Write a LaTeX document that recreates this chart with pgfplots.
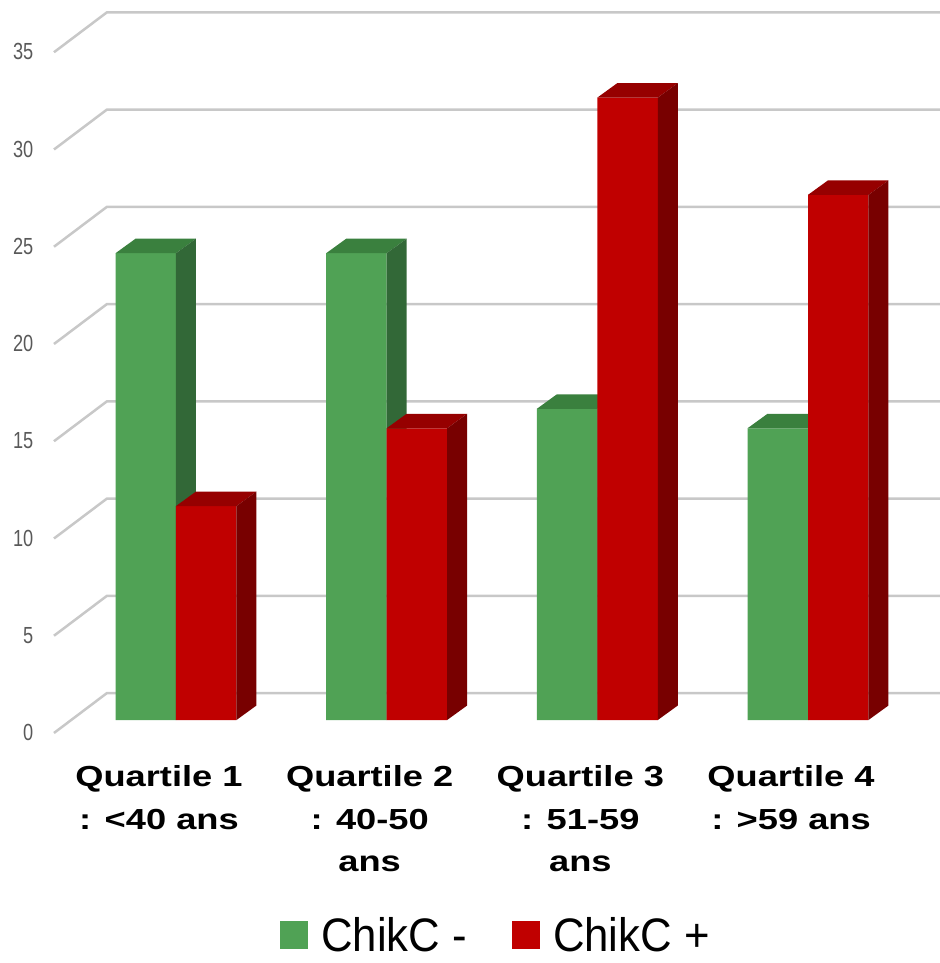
\documentclass[border=0pt]{standalone}
\usepackage{pgfplots}
\pgfplotsset{compat=1.18}
\usepackage{pgfplotstable}
\usepackage{fontspec}
\setmainfont{Liberation Sans}
\newfontfamily\labfont[FakeStretch=1.25]{Liberation Sans}
\newfontfamily\tickfont[FakeStretch=0.78]{Liberation Sans}
\newfontfamily\legfont[FakeStretch=0.93]{Liberation Sans}

\definecolor{gfront}{RGB}{80,162,85}
\definecolor{gtop}{RGB}{58,128,62}
\definecolor{gside}{RGB}{50,104,55}
\definecolor{rfront}{RGB}{192,0,0}
\definecolor{rtop}{RGB}{150,0,0}
\definecolor{rside}{RGB}{120,0,0}
\definecolor{gridc}{RGB}{200,200,200}
\definecolor{tickgray}{RGB}{89,89,89}

\pgfplotstableread{
x green red
0 24 11
1 24 15
2 16 32
3 15 27
}\datatable

% shape of one gridline: front floor edge -> back wall -> right edge
\pgfplotstableread{
x y
-0.5791 -0.668
-0.3275 1.388
3.6265 1.388
}\gridshape

\def\bw{0.287}
\def\dxx{0.0949}
\def\dyy{0.7455}

\pgfplotsset{sqlegend/.style={legend image code/.code={\fill[##1, draw=none] (0pt,-14pt) rectangle (28pt,14pt);}}}

\newcommand{\barfaces}[4]{%
  \pgfmathsetmacro\xa{#1}%
  \pgfmathsetmacro\xb{#1+\bw}%
  \pgfmathsetmacro\xc{#1+\dxx}%
  \pgfmathsetmacro\xd{#1+\bw+\dxx}%
  \pgfmathsetmacro\yv{#2}%
  \pgfmathsetmacro\yt{#2+\dyy}%
  \addplot[forget plot, fill=#3, draw=none] coordinates {(\xa,\yv) (\xc,\yt) (\xd,\yt) (\xb,\yv) (\xa,\yv)};
  \addplot[forget plot, fill=#4, draw=none] coordinates {(\xb,0) (\xd,\dyy) (\xd,\yt) (\xb,\yv) (\xb,0)};
}

\begin{document}
\begin{tikzpicture}
\begin{axis}[
  width=940pt, height=740pt, scale only axis,
  xmin=-0.8354, xmax=3.6265, ymin=-1.028, ymax=37.018,
  axis line style={draw=none}, major tick length=0pt, tick style={draw=none},
  clip=false,
  /pgf/number format/assume math mode=true,
  xtick={0,1,2,3},
  xticklabels={{Quartile 1\\: <40 ans},{Quartile 2\\: 40-50\\ans},{Quartile 3\\: 51-59\\ans},{Quartile 4\\: >59 ans}},
  xticklabel style={align=center, anchor=north, inner sep=0pt, xshift=-17pt, yshift=-25.5pt, font=\labfont\bfseries\fontsize{29}{42.5}\selectfont},
  ytick={0,5,...,35},
  yticklabel style={anchor=east, inner sep=0pt, xshift=33.5pt, yshift=-12.5pt, font=\tickfont\fontsize{23.3}{28}\selectfont, text=tickgray},
  legend style={at={(0.5266,-0.2635)}, anchor=center, draw=none, fill=none, legend columns=2,
    font=\legfont\fontsize{47}{56}\selectfont, inner sep=0pt, nodes={inner sep=0pt},
    /tikz/every odd column/.append style={column sep=13pt},
    /tikz/every even column/.append style={column sep=45pt}},
]
\coordinate (bl) at (rel axis cs:0,0);
\coordinate (tr) at (rel axis cs:1,1);

\pgfplotsinvokeforeach{0,5,...,35}{
  \addplot[forget plot, gridc, line width=2.5pt, line join=round] table[x=x, y expr=\thisrow{y}+#1]{\gridshape};
}

\addplot[ybar, bar width=\bw, bar shift=-0.1435, fill=gfront, draw=none, sqlegend] table[x=x,y=green]{\datatable};
\pgfplotsinvokeforeach{0,1,2,3}{
  \pgfplotstablegetelem{#1}{green}\of\datatable
  \barfaces{#1-\bw}{\pgfplotsretval}{gtop}{gside}
}
\addplot[ybar, bar width=\bw, bar shift=0.1435, fill=rfront, draw=none, sqlegend] table[x=x,y=red]{\datatable};
\pgfplotsinvokeforeach{0,1,2,3}{
  \pgfplotstablegetelem{#1}{red}\of\datatable
  \barfaces{#1}{\pgfplotsretval}{rtop}{rside}
}
\legend{ChikC -, ChikC +}
\end{axis}
\pgfresetboundingbox
\path (bl) ++(0pt,-223pt) rectangle (tr);
\end{tikzpicture}
\end{document}
